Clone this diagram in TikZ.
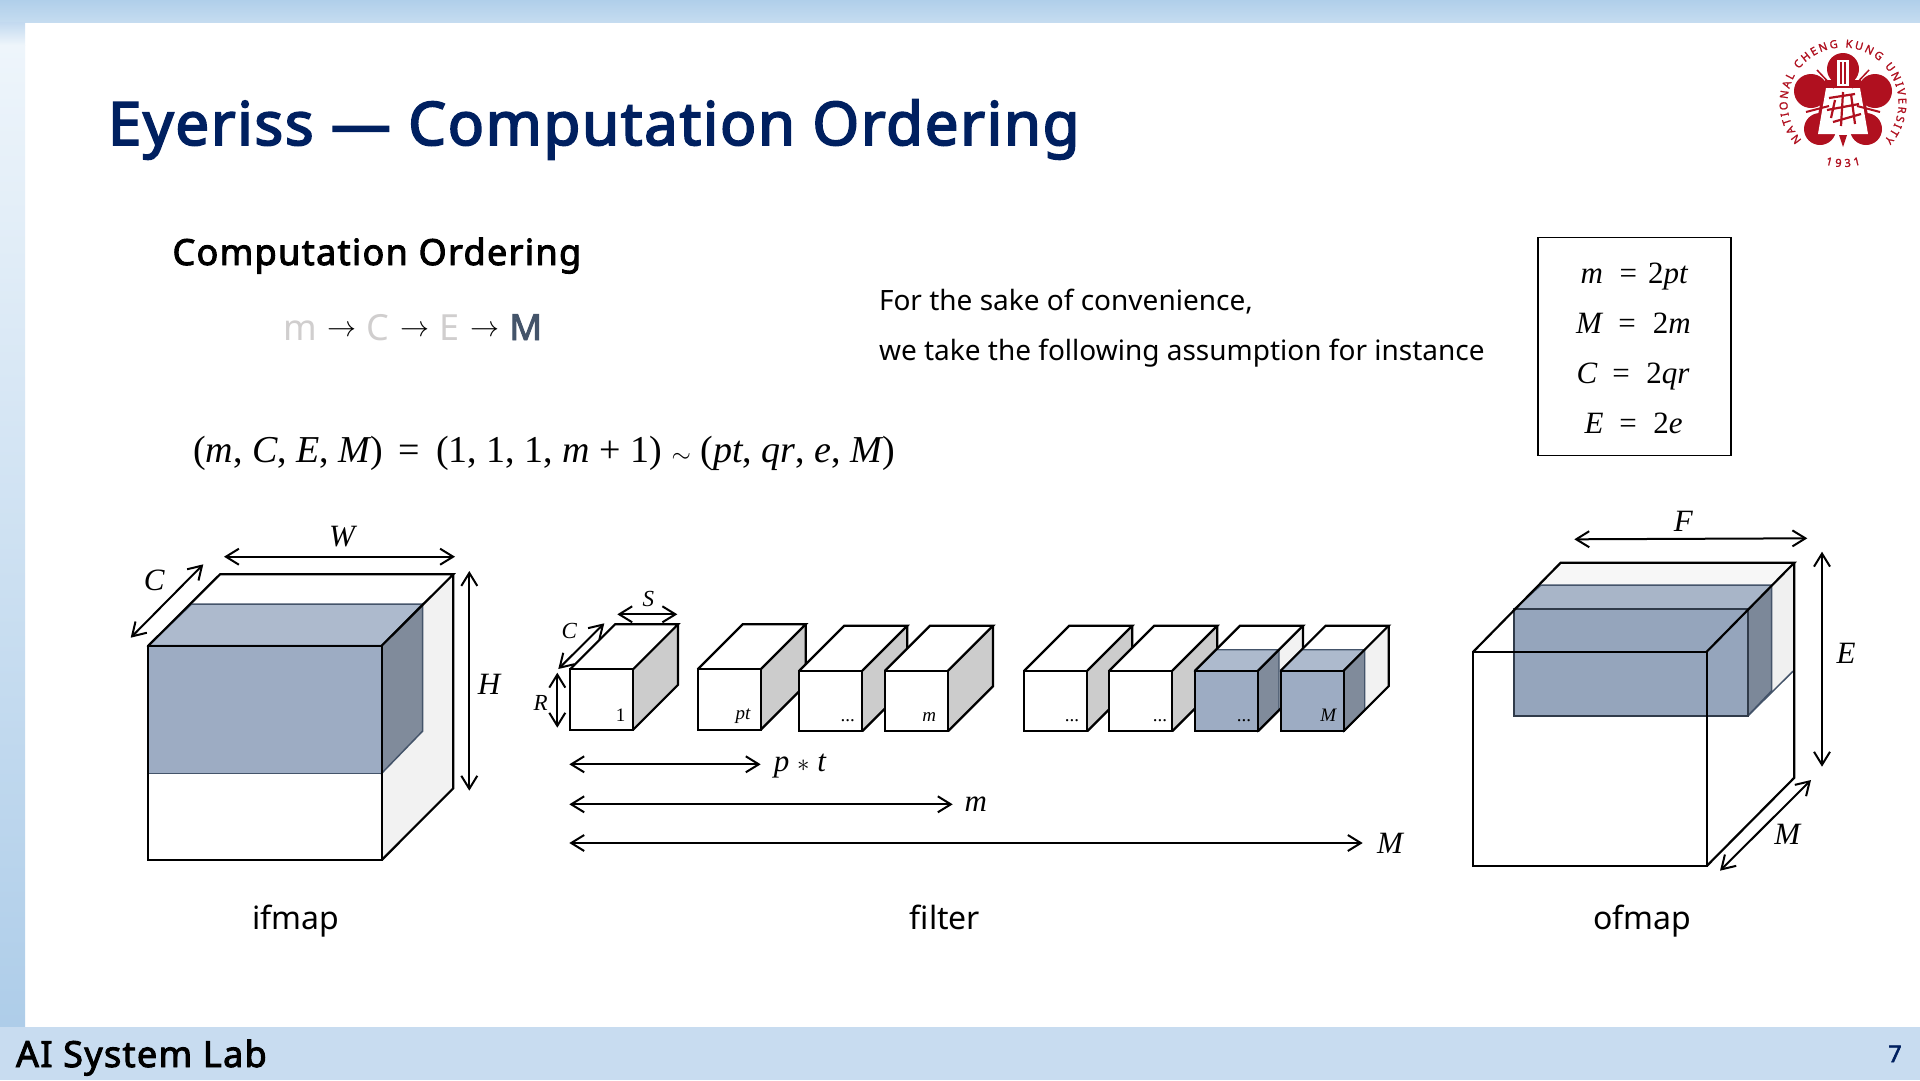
\documentclass[tikz,border=0pt]{standalone}
\usepackage{fontspec}
\usepackage{graphicx}
\setmainfont{Noto Sans}
\newfontfamily\bfnt{Noto Sans}[FakeBold=2.6,LetterSpace=3.7]
\newfontfamily\titlefnt{Noto Sans}[FakeBold=3,LetterSpace=2.8]
\newfontfamily\sealfnt{Noto Sans}[FakeBold=1.5]
\newfontfamily\mathfnt{Liberation Serif}
\usetikzlibrary{arrows.meta,decorations.text,calc}
\definecolor{navy}{HTML}{002060}
\definecolor{slateblue}{HTML}{44546A}
\definecolor{greyletter}{HTML}{D0CECE}
\definecolor{barblue}{HTML}{C8DCF0}
\definecolor{bandtop}{HTML}{B0CFEA}
\definecolor{bandlow}{HTML}{C5DCF0}
\definecolor{bandcorner}{HTML}{C2D9EF}
\definecolor{bandpale}{HTML}{EEF5FB}
\definecolor{bandbottom}{HTML}{AECDE9}
\definecolor{bluefront}{HTML}{9DACC3}
\definecolor{bluetop}{HTML}{ADBACD}
\definecolor{blueside}{HTML}{808B9B}
\definecolor{ofront}{HTML}{95A5BC}
\definecolor{otop}{HTML}{A8B5C8}
\definecolor{oside}{HTML}{7C8899}
\definecolor{sidegrey}{HTML}{CCCCCC}
\definecolor{sidelight}{HTML}{F2F2F2}
\definecolor{logored}{HTML}{B0101F}
\newcommand{\fs}[1]{\fontsize{#1}{#1}\selectfont}
\newcommand{\mv}[1]{{\mathfnt\itshape #1}}
\newcommand{\ordarrow}{\hspace{11pt}\raisebox{4pt}{\resizebox{29pt}{!}{$\rightarrow$}}\hspace{10pt}}
\newcommand{\lbl}[4]{\node[plain,font=\mathfnt\itshape\fs{#3}] (#1) at (#2) {#4};}
% dimension arrow with named end points
\newcommand{\dimarrow}[3]{\coordinate (#1a) at (#2); \coordinate (#1b) at (#3); \draw[dimline] (#1a) -- (#1b);}
% filter slice: x, y, side colour
\newcommand{\slicebody}[3]{%
  \fill[white] (#1,#2) -- ++(45,-45) -- ++(63,0) -- ++(-45,45) -- cycle;
  \fill[#3] (#1+63,#2) -- ++(45,-45) -- ++(0,60.5) -- ++(-45,45) -- cycle;
  \fill[white] (#1,#2) rectangle ++(63,60.5);}
\newcommand{\sliceedges}[2]{%
  \draw[edge] (#1,#2) -- ++(45,-45) -- ++(63,0) -- ++(-45,45);
  \draw[edge] (#1+108,#2-45) -- ++(0,60.5) -- ++(-45,45);
  \draw[edge] (#1,#2) rectangle ++(63,60.5);}
\newcommand{\bluepart}[2]{%
  \fill[bluefront] (#1,#2) rectangle ++(63,60.5);
  \filldraw[bluetop,draw=slateblue,line width=1.4pt] (#1,#2) -- ++(21,-21) -- ++(63,0) -- ++(-21,21) -- cycle;
  \filldraw[blueside,draw=slateblue,line width=1.4pt] (#1+63,#2) -- ++(21,-21) -- ++(0,60.5) -- ++(-21,21) -- cycle;}
\tikzset{
  x=1pt,y=-1pt,
  plain/.style={inner sep=0pt,outer sep=0pt,anchor=base,text=black},
  textleft/.style={inner sep=0pt,outer sep=0pt,anchor=base west,text=black},
  edge/.style={draw=black,line width=2.2pt,line join=miter},
  bluedge/.style={draw=slateblue,line width=1.5pt},
  dimline/.style={draw=black,line width=2pt,{Straight Barb[length=13pt,width=16pt]}-{Straight Barb[length=13pt,width=16pt]}},
}
\begin{document}
\begin{tikzpicture}
\useasboundingbox (0,0) rectangle (1920,1080);
% background
\fill[white] (0,0) rectangle (1920,1080);
\shade[top color=bandtop,bottom color=bandlow] (0,0) rectangle (1920,22);
\shade[top color=bandcorner,bottom color=bandpale] (0,22) rectangle (25,45);
\shade[top color=bandpale,bottom color=bandbottom] (0,45) rectangle (25,1027);
\fill[barblue] (0,1027) rectangle (1920,1080);
% titles
\node[textleft,text=navy,font=\titlefnt\fs{60}] (title) at (108,145) {Eyeriss — Computation Ordering};
\node[textleft,font=\bfnt\fs{36}] (heading) at (172.5,265) {Computation Ordering};
\node[textleft,font=\fs{36}] (order) at (283,340) {\textcolor{greyletter}{m}\ordarrow\textcolor{greyletter}{C}\ordarrow\textcolor{greyletter}{E}\ordarrow\textcolor{slateblue}{\bfnt M}};
\node[textleft,font=\mathfnt\fs{38}] (formula) at (193,462) {(\mv{m}, \mv{C}, \mv{E}, \mv{M})\, =\, (1, 1, 1, \mv{m} + 1) $\sim$ (\mv{pt}, \mv{qr}, \mv{e}, \mv{M})};
\node[textleft,font=\fs{28}] (note1) at (879,310) {For the sake of convenience,};
\node[textleft,font=\fs{28}] (note2) at (879,360) {we take the following assumption for instance};
% assumption box
\node[draw=black,line width=1.6pt,minimum width=193pt,minimum height=218pt,inner sep=0pt,outer sep=0pt,anchor=center] (assumebox) at (1634.2,346.3) {};
\lbl{am}{1591.7,283}{31}{m}\lbl{aeq1}{1628.3,283}{31}{\upshape =}\lbl{a2pt}{1668,283}{31}{\upshape 2\itshape pt}
\lbl{aM}{1589,333}{31}{M}\lbl{aeq2}{1627,333}{31}{\upshape =}\lbl{a2m}{1671.7,333}{31}{\upshape 2\itshape m}
\lbl{aC}{1587,383}{31}{C}\lbl{aeq3}{1621,383}{31}{\upshape =}\lbl{a2qr}{1668,383}{31}{\upshape 2\itshape qr}
\lbl{aE}{1594,433.5}{31}{E}\lbl{aeq4}{1628,433.5}{31}{\upshape =}\lbl{a2e}{1668,433.5}{31}{\upshape 2\itshape e}
% ifmap
\fill[sidelight] (381.7,645.7) -- (453.3,574.3) -- (453.3,788.3) -- (381.7,860) -- cycle;
\filldraw[bluetop,bluedge] (148.3,645.7) -- (191.7,604) -- (422.7,604) -- (381.7,645.7) -- cycle;
\filldraw[blueside,bluedge] (381.7,645.7) -- (422.7,604) -- (422.7,731) -- (381.7,773.3) -- cycle;
\filldraw[bluefront,bluedge] (148.3,645.7) rectangle (381.7,773.3);
\draw[edge] (148.3,645.7) -- (220,574.3) -- (453.3,574.3) -- (381.7,645.7);
\draw[edge] (453.3,574.3) -- (453.3,788.3) -- (381.7,860);
\draw[edge] (148.3,645.7) rectangle (381.7,860);
\dimarrow{iw}{224,556.7}{455,556.7}
\dimarrow{ic}{130.7,637.7}{203.3,564.3}
\dimarrow{ih}{469.3,571}{469.3,790.7}
\lbl{lW}{342,546.7}{31}{W}\lbl{lC}{154.3,590.7}{31}{C}\lbl{lH}{489,694}{31}{H}
% filter slices
\slicebody{570}{669.3}{sidegrey}\sliceedges{570}{669.3}
\slicebody{697.7}{669.3}{sidegrey}\sliceedges{697.7}{669.3}
\slicebody{799.3}{670.7}{sidegrey}\sliceedges{799.3}{670.7}
\slicebody{885}{670.7}{sidegrey}\sliceedges{885}{670.7}
\slicebody{1024.3}{670.7}{sidegrey}\sliceedges{1024.3}{670.7}
\slicebody{1109.3}{670.7}{sidegrey}\sliceedges{1109.3}{670.7}
\slicebody{1195}{670.7}{sidelight}\bluepart{1195}{670.7}\sliceedges{1195}{670.7}
\slicebody{1280.7}{670.7}{sidelight}\bluepart{1280.7}{670.7}\sliceedges{1280.7}{670.7}
\lbl{s1}{620.7,721}{19}{\upshape 1}\lbl{s2}{743,719.5}{19}{pt}\lbl{s3}{847.7,721}{19}{\upshape ...}\lbl{s4}{929.3,721}{19}{m}
\lbl{s5}{1072,721}{19}{\upshape ...}\lbl{s6}{1160,721}{19}{\upshape ...}\lbl{s7}{1244,721}{19}{\upshape ...}\lbl{s8}{1328.3,721}{19}{M}
\dimarrow{fr}{557.3,672.7}{557.3,727.7}
\dimarrow{fc}{558.3,669}{604.3,623.3}
\dimarrow{fs}{617.3,614.3}{677.3,614.3}
\dimarrow{fp}{569.3,764.3}{760.7,764.3}
\dimarrow{fm}{569.3,804.3}{952.7,804.3}
\dimarrow{fM}{569.3,843}{1362.7,843}
\lbl{lS}{648.3,606}{23}{S}\lbl{lC2}{569.3,638}{23}{C}\lbl{lR}{540.7,710}{23}{R}
\node[plain,font=\mathfnt\fs{31}] (lpt) at (800,771.7) {\mv{p} $*$ \mv{t}};
\lbl{lm}{975.7,811.7}{31}{m}\lbl{lM}{1390,853.3}{31}{M}
% ofmap
\fill[black!3!white] (1514,609.3) -- (1541,585) -- (1560.7,562.7) -- (1794.3,562.7) -- (1747.7,609.3) -- cycle;
\fill[black!6!white] (1747.7,609.3) -- (1794.3,562.7) -- (1794.3,670) -- (1747.7,716) -- cycle;
\fill[otop] (1514,609.3) -- (1541,585) -- (1771.7,585) -- (1747.7,609.3) -- cycle;
\fill[oside] (1747.7,609.3) -- (1771.7,585) -- (1771.7,690.7) -- (1747.7,716) -- cycle;
\fill[ofront] (1514,609.3) rectangle (1747.7,716);
\draw[bluedge] (1514,609.3) -- (1541,585) -- (1771.7,585) -- (1771.7,690.7) -- (1747.7,716);
\draw[bluedge] (1747.7,716) -- (1794.3,670);
\draw[draw=slateblue!70!black,line width=2.2pt] (1514,609.3) rectangle (1747.7,716);
\draw[edge] (1473.3,651.7) -- (1560.7,562.7) -- (1794.3,562.7) -- (1706.7,651.7);
\draw[edge] (1794.3,562.7) -- (1794.3,777.7) -- (1706.7,866);
\draw[edge] (1473.3,651.7) rectangle (1706.7,866);
\dimarrow{of}{1574.3,539.3}{1807.3,538.3}
\dimarrow{oe}{1822,551.7}{1822,766.7}
\dimarrow{om}{1720,870.7}{1811,780}
\lbl{lF}{1683.3,531.7}{31}{F}\lbl{lE}{1846,663.3}{31}{E}\lbl{lM2}{1787.3,844}{31}{M}
% captions
\node[plain,font=\fs{32}] (capi) at (296,929) {ifmap};
\node[plain,font=\fs{32}] (capf) at (945,929) {filter};
\node[plain,font=\fs{32}] (capo) at (1642,929) {ofmap};
\node[textleft,font=\bfnt\fs{36}] (lab) at (16,1067) {AI System Lab};
\node[plain,text=navy,font=\bfnt\fs{23}] (pageno) at (1895,1062) {7};
% university seal
\begin{scope}[shift={(1843,100)}]
  \fill[logored] (0,-31) circle (16);
  \fill[logored] (-32,-9) circle (17);
  \fill[logored] (32,-9) circle (17);
  \fill[logored] (-23,29) circle (16);
  \fill[logored] (23,29) circle (16);
  \fill[logored] (0,-47) -- (10,-41) -- (-10,-41) -- cycle;
  \fill[logored] (-18,-20) -- (18,-20) -- (28,30) -- (-28,30) -- cycle;
  \fill[logored] (-4,35) -- (4,35) -- (0,47) -- cycle;
  \fill[white] (-17,-12) -- (17,-12) -- (25,34) -- (-25,34) -- cycle;
  \fill[white] (-6,-40) rectangle (6,-14);
  \fill[logored] (-3,-38) rectangle (-1,-16);
  \fill[logored] (1,-38) rectangle (3,-16);
  \draw[logored,line width=1.5pt] (-26,-30) -- (-9,-12);
  \draw[logored,line width=1.5pt] (26,-30) -- (9,-12);
  \draw[logored,line width=2pt] (-37,12) -- (-14,6);
  \draw[logored,line width=2pt] (37,12) -- (14,6);
  \draw[logored,line width=2.2pt] (-14,-2) -- (12,-6) (-16,10) -- (16,4) (-10,22) -- (18,14) (0,-8) -- (-2,26) (8,-6) -- (12,24) (-8,0) -- (-12,18);
\end{scope}
\begin{scope}[shift={(1843,103)},y=1pt]
  \path[decorate,decoration={text along path,text align={fit to path},text color=logored,
     text={|\sealfnt\fs{11}|NATIONAL CHENG KUNG UNIVERSITY}}]
     (222:55.5) arc[start angle=222,end angle=-42,radius=55.5];
  \path[decorate,decoration={text along path,text align={fit to path},text color=logored,
     text={|\sealfnt\fs{11}|1931}}]
     (254:64) arc[start angle=254,end angle=286,radius=64];
\end{scope}
\end{tikzpicture}
\end{document}
